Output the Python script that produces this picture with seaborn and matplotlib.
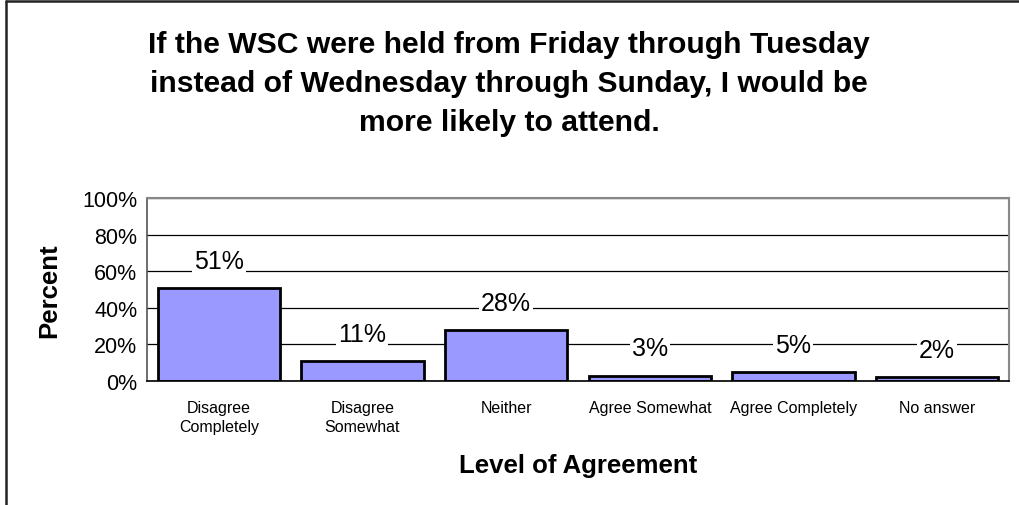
import matplotlib
matplotlib.use("Agg")
import matplotlib.pyplot as plt
import seaborn as sns
import pandas as pd
import numpy as np
from matplotlib.lines import Line2D

categories = ["Disagree\nCompletely", "Disagree\nSomewhat", "Neither",
              "Agree Somewhat", "Agree Completely", "No answer"]
percents = [51, 11, 28, 3, 5, 2]
yticks = [0, 20, 40, 60, 80, 100]
title = ("If the WSC were held from Friday through Tuesday\n"
         "instead of Wednesday through Sunday, I would be\n"
         "more likely to attend.")

sns.set_style("white")
plt.rcParams['font.family'] = ['Liberation Sans', 'DejaVu Sans']
plt.rcParams['text.color'] = 'black'
plt.rcParams['axes.labelcolor'] = 'black'
plt.rcParams['xtick.color'] = 'black'
plt.rcParams['ytick.color'] = 'black'

df = pd.DataFrame({"category": categories, "percent": percents})

fig = plt.figure(figsize=(10.19, 5.06), dpi=100)
ax = fig.add_axes([147 / 1019, 1 - 382 / 506, (1009 - 147) / 1019, (382 - 199) / 506])

sns.barplot(data=df, x="category", y="percent", color="#9999FF",
            edgecolor="black", linewidth=2, width=0.85, saturation=1, ax=ax)

ax.set_ylim(0, 100)
ax.set_xlim(-0.5, len(categories) - 0.5)
ax.set_yticks(yticks)
ax.set_yticklabels([f"{t}%" for t in yticks], fontsize=15.5)
ax.yaxis.grid(True, color="black", linewidth=0.9)
ax.set_axisbelow(True)

# category labels centred, tick marks at category boundaries
ax.set_xticks(range(len(categories)))
ax.set_xticklabels(categories, fontsize=11.5, linespacing=1.3)
ax.tick_params(axis="x", which="major", length=0, pad=14)
ax.set_xticks(np.arange(-0.5, len(categories)), minor=True)
ax.tick_params(axis="x", which="minor", length=5, width=1, direction="out", color="black")
ax.tick_params(axis="y", length=5, width=1, direction="out", color="black", pad=2)

for side in ["top", "right"]:
    ax.spines[side].set_color("#888888")
    ax.spines[side].set_linewidth(1.5)
ax.spines["left"].set_color("#555555")
ax.spines["bottom"].set_color("black")
for side in ["left", "bottom"]:
    ax.spines[side].set_linewidth(1.2)

for i, v in enumerate(percents):
    ax.annotate(f"{v}%", xy=(i, v), xytext=(0, 19.5), textcoords="offset points",
                ha="center", va="center", fontsize=18,
                bbox=dict(facecolor="white", edgecolor="none", pad=1.5))

ax.set_xlabel("Level of Agreement", fontsize=18.5, fontweight="bold", labelpad=14)
ax.set_ylabel("Percent", fontsize=18.5, fontweight="bold", labelpad=15)

fig.text(509 / 1019, 1 - 84 / 506, title, ha="center", va="center",
         fontsize=21.7, fontweight="bold", linespacing=1.48)

# outer chart frame (only left and top edges visible)
fig.add_artist(Line2D([6 / 1019, 6 / 1019], [0, 1 - 2 / 506], color="#222222", lw=1.8,
                      transform=fig.transFigure))
fig.add_artist(Line2D([6 / 1019, 1], [1 - 2 / 506, 1 - 2 / 506], color="#222222", lw=1.8,
                      transform=fig.transFigure))

fig.savefig("out.png", dpi=100)
